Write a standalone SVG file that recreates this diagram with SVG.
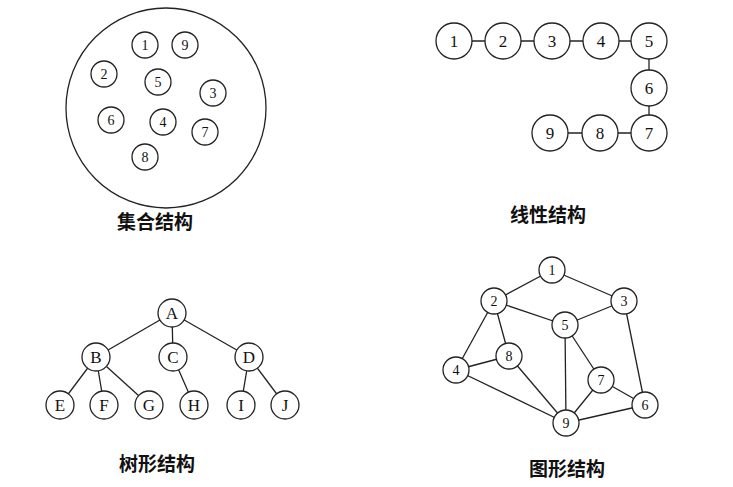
<svg xmlns="http://www.w3.org/2000/svg" width="733" height="487" viewBox="0 0 733 487">
<style>
circle{fill:#fff;stroke:#222;stroke-width:1.3}
.big{fill:none}
text{font-family:"Liberation Serif",serif;font-size:17px;fill:#111;text-anchor:middle;dominant-baseline:central}
.s{font-size:14px}
.t{font-family:"Noto Sans CJK SC",sans-serif;font-size:19px;font-weight:bold}
line{stroke:#222;stroke-width:1.3}
</style>
<rect width="733" height="487" fill="#fff"/>
<g id="set">
<circle class="big" cx="166" cy="108" r="100"/>
<g id="s1"><circle cx="145" cy="45" r="13"/><text class="s" x="145" y="45">1</text></g>
<g id="s9"><circle cx="185" cy="45" r="13"/><text class="s" x="185" y="45">9</text></g>
<g id="s2"><circle cx="104" cy="74" r="13"/><text class="s" x="104" y="74">2</text></g>
<g id="s5"><circle cx="158" cy="82" r="13"/><text class="s" x="158" y="82">5</text></g>
<g id="s3"><circle cx="213" cy="93" r="13"/><text class="s" x="213" y="93">3</text></g>
<g id="s6"><circle cx="111" cy="120" r="13"/><text class="s" x="111" y="120">6</text></g>
<g id="s4"><circle cx="163" cy="122" r="13"/><text class="s" x="163" y="122">4</text></g>
<g id="s7"><circle cx="205" cy="132" r="13"/><text class="s" x="205" y="132">7</text></g>
<g id="s8"><circle cx="145" cy="157" r="13"/><text class="s" x="145" y="157">8</text></g>
</g>
<text class="t" x="155" y="220">集合结构</text>
<g id="connectors">
<line x1="454" y1="41" x2="649" y2="41"/><line x1="649" y1="41" x2="649" y2="133"/><line x1="649" y1="133" x2="550" y2="133"/>
<line x1="172" y1="313" x2="96" y2="357"/><line x1="172" y1="313" x2="173" y2="357"/><line x1="172" y1="313" x2="249" y2="357"/>
<line x1="96" y1="357" x2="60" y2="405"/><line x1="96" y1="357" x2="104" y2="405"/><line x1="96" y1="357" x2="149" y2="405"/>
<line x1="173" y1="357" x2="194" y2="405"/><line x1="249" y1="357" x2="241" y2="405"/><line x1="249" y1="357" x2="285" y2="405"/>
<line x1="552" y1="270" x2="494" y2="301"/><line x1="552" y1="270" x2="624" y2="301"/><line x1="494" y1="301" x2="565" y2="325"/>
<line x1="624" y1="301" x2="565" y2="325"/><line x1="494" y1="301" x2="509" y2="356"/><line x1="494" y1="301" x2="456" y2="370"/>
<line x1="456" y1="370" x2="509" y2="356"/><line x1="456" y1="370" x2="566" y2="423"/><line x1="509" y1="356" x2="566" y2="423"/>
<line x1="565" y1="325" x2="601" y2="380"/><line x1="565" y1="325" x2="566" y2="423"/><line x1="601" y1="380" x2="566" y2="423"/>
<line x1="601" y1="380" x2="645" y2="405"/><line x1="624" y1="301" x2="645" y2="405"/><line x1="566" y1="423" x2="645" y2="405"/>
</g>
<g id="lin">
<g id="l1"><circle cx="454" cy="41" r="18"/><text x="454" y="41">1</text></g>
<g id="l2"><circle cx="503" cy="41" r="18"/><text x="503" y="41">2</text></g>
<g id="l3"><circle cx="552" cy="41" r="18"/><text x="552" y="41">3</text></g>
<g id="l4"><circle cx="601" cy="41" r="18"/><text x="601" y="41">4</text></g>
<g id="l5"><circle cx="649" cy="41" r="18"/><text x="649" y="41">5</text></g>
<g id="l6"><circle cx="649" cy="88" r="18"/><text x="649" y="88">6</text></g>
<g id="l7"><circle cx="649" cy="133" r="18"/><text x="649" y="133">7</text></g>
<g id="l8"><circle cx="600" cy="133" r="18"/><text x="600" y="133">8</text></g>
<g id="l9"><circle cx="550" cy="133" r="18"/><text x="550" y="133">9</text></g>
</g>
<text class="t" x="548" y="213">线性结构</text>
<g id="tree">
<g id="tA"><circle cx="172" cy="313" r="14"/><text x="172" y="313">A</text></g>
<g id="tB"><circle cx="96" cy="357" r="14"/><text x="96" y="357">B</text></g>
<g id="tC"><circle cx="173" cy="357" r="14"/><text x="173" y="357">C</text></g>
<g id="tD"><circle cx="249" cy="357" r="14"/><text x="249" y="357">D</text></g>
<g id="tE"><circle cx="60" cy="405" r="14"/><text x="60" y="405">E</text></g>
<g id="tF"><circle cx="104" cy="405" r="14"/><text x="104" y="405">F</text></g>
<g id="tG"><circle cx="149" cy="405" r="14"/><text x="149" y="405">G</text></g>
<g id="tH"><circle cx="194" cy="405" r="14"/><text x="194" y="405">H</text></g>
<g id="tI"><circle cx="241" cy="405" r="14"/><text x="241" y="405">I</text></g>
<g id="tJ"><circle cx="285" cy="405" r="14"/><text x="285" y="405">J</text></g>
</g>
<text class="t" x="157" y="462">树形结构</text>
<g id="graph">
<g id="g1"><circle cx="552" cy="270" r="13"/><text class="s" x="552" y="270">1</text></g>
<g id="g2"><circle cx="494" cy="301" r="13"/><text class="s" x="494" y="301">2</text></g>
<g id="g3"><circle cx="624" cy="301" r="13"/><text class="s" x="624" y="301">3</text></g>
<g id="g5"><circle cx="565" cy="325" r="13"/><text class="s" x="565" y="325">5</text></g>
<g id="g8"><circle cx="509" cy="356" r="13"/><text class="s" x="509" y="356">8</text></g>
<g id="g4"><circle cx="456" cy="370" r="13"/><text class="s" x="456" y="370">4</text></g>
<g id="g7"><circle cx="601" cy="380" r="13"/><text class="s" x="601" y="380">7</text></g>
<g id="g6"><circle cx="645" cy="405" r="13"/><text class="s" x="645" y="405">6</text></g>
<g id="g9"><circle cx="566" cy="423" r="13"/><text class="s" x="566" y="423">9</text></g>
</g>
<text class="t" x="567" y="467">图形结构</text>
</svg>
